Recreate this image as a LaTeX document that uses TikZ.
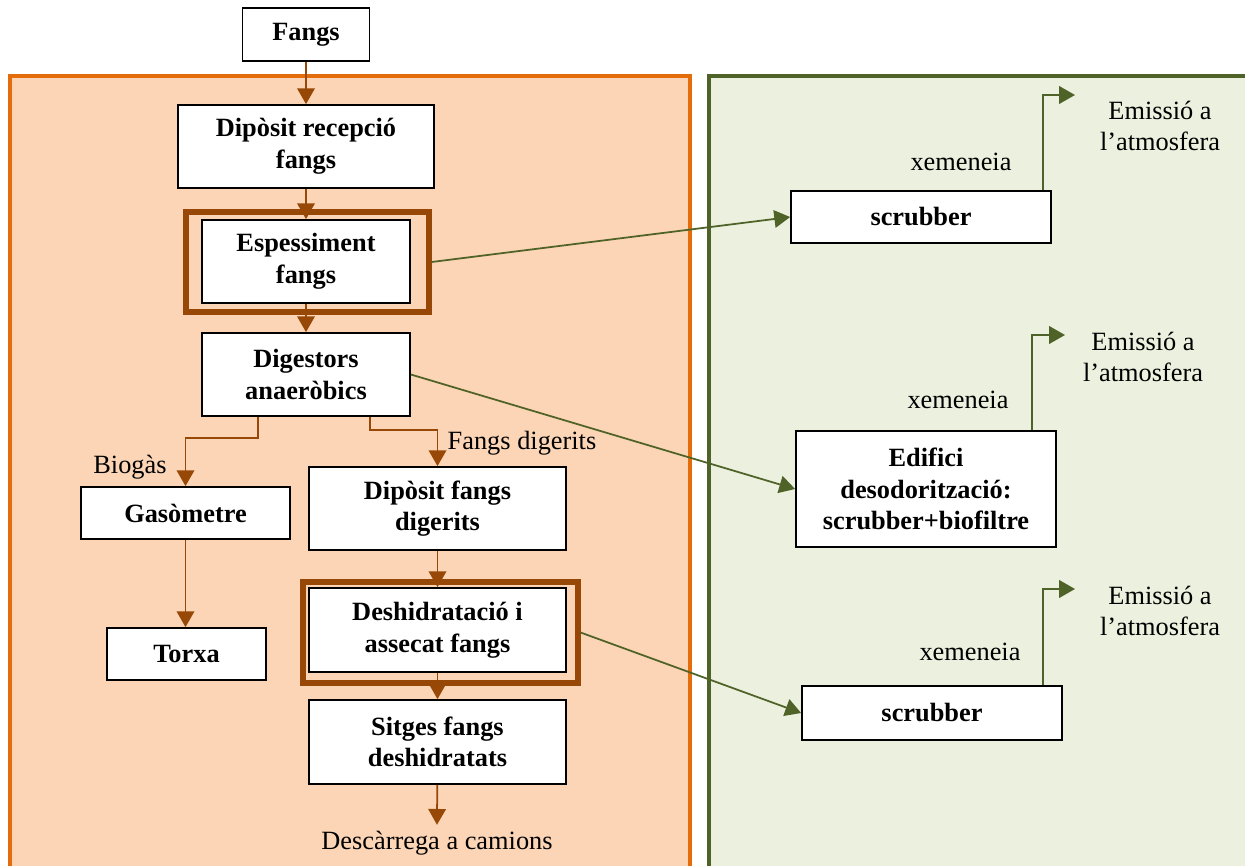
\documentclass[tikz,border=0pt]{standalone}
\usepackage{fontspec}
\setmainfont{Liberation Serif}
\usetikzlibrary{arrows.meta}
\definecolor{sludgeline}{HTML}{E46C0A}
\definecolor{sludgefill}{HTML}{FBD5B5}
\definecolor{airline}{HTML}{4F6228}
\definecolor{airfill}{HTML}{EBF1DE}
\definecolor{keybrown}{HTML}{974806}

\begin{document}
\begin{tikzpicture}[x=0.02cm, y=-0.02cm, font=\fontsize{15}{18}\selectfont,
  stage/.style={draw=black, line width=1pt, fill=white, align=center, inner sep=0pt, font=\fontsize{15}{18}\selectfont\bfseries},
  keyframe/.style={draw=keybrown, line width=3pt, inner sep=0pt},
  flow/.style={draw=keybrown, line width=1pt, -{Triangle[length=9pt,width=10pt]}},
  air/.style={draw=airline, line width=1pt, -{Triangle[length=9pt,width=10pt]}}]
\useasboundingbox (0,0) rectangle (1245,866);

% the two areas
\draw [sludgeline, fill=sludgefill, line width=2.3pt] (10,76) rectangle (690,875);
\draw [airline, fill=airfill, line width=2.3pt] (709,76) rectangle (1260,875);

% sludge line
\node [stage, minimum width=2.54cm, minimum height=1.06cm] (fangs) at (306,34.5) {Fangs};
\node [stage, minimum width=5.12cm, minimum height=1.66cm] (recep) at (306,146.5) {Dipòsit recepció\\fangs};
\node [keyframe, minimum width=4.86cm, minimum height=2.0cm] (espframe) at (307.5,262) {};
\node [stage, minimum width=4.16cm, minimum height=1.66cm] (esp) at (306,261.5) {Espessiment\\fangs};
\node [stage, minimum width=4.16cm, minimum height=1.66cm] (dig) at (306,374.5) {Digestors\\anaeròbics};
\node [stage, minimum width=4.18cm, minimum height=1.04cm] (gaso) at (185.5,513) {Gasòmetre};
\node [stage, minimum width=5.14cm, minimum height=1.66cm] (dipdig) at (437.5,508.5) {Dipòsit fangs\\digerits};
\node [stage, minimum width=3.18cm, minimum height=1.04cm] (torxa) at (186.5,654) {Torxa};
\node [keyframe, minimum width=5.5cm, minimum height=2.02cm] (deshframe) at (440.5,632.5) {};
\node [stage, minimum width=5.14cm, minimum height=1.68cm] (desh) at (437.5,630) {Deshidratació i\\assecat fangs};
\node [stage, minimum width=5.14cm, minimum height=1.68cm] (sitges) at (437.5,742) {Sitges fangs\\deshidratats};
\node (camions) at (437,843) {Descàrrega a camions};
\node (biogas) at (130,467) {Biogàs};
\node (fdig) at (522,443) {Fangs digerits};

\draw [flow] (fangs) -- (recep);
\draw [flow] (recep) -- (esp);
\draw [flow] (esp) -- (dig);
\draw [flow] ([xshift=-0.96cm]dig.south) -- ++(0,21) -| (gaso);
\draw [flow] ([xshift=1.28cm]dig.south) -- ++(0,13) -| (dipdig);
\draw [flow] (gaso) -- (gaso|-torxa.north);
\draw [flow] (dipdig) -- (desh);
\draw [flow] (desh) -- (sitges);
\draw [flow] (sitges) -- (camions.north);

% air treatment
\node [stage, minimum width=5.2cm, minimum height=1.04cm] (scrub1) at (921,217) {scrubber};
\node [stage, minimum width=5.2cm, minimum height=2.32cm] (edif) at (926,489) {Edifici\\desodorització:\\scrubber+biofiltre};
\node [stage, minimum width=5.2cm, minimum height=1.08cm] (scrub2) at (932,713) {scrubber};

\node (xem1) at (961,162) {xemeneia};
\node (xem2) at (958,400) {xemeneia};
\node (xem3) at (970,652) {xemeneia};
\node [align=center] (emis1) at (1160,126) {Emissió a\\l’atmosfera};
\node [align=center] (emis2) at (1143,357) {Emissió a\\l’atmosfera};
\node [align=center] (emis3) at (1160,611) {Emissió a\\l’atmosfera};
\coordinate (out1) at (1075,95);
\coordinate (out2) at (1065,335);
\coordinate (out3) at (1075,589);

\draw [air] (espframe.east) -- (scrub1.west);
\draw [air] (dig.east) -- (edif.west);
\draw [air] (deshframe.east) -- (scrub2.west);
\draw [air] ([xshift=2.44cm]scrub1.north) |- (out1);
\draw [air] ([xshift=2.12cm]edif.north) |- (out2);
\draw [air] ([xshift=2.22cm]scrub2.north) |- (out3);

\end{tikzpicture}
\end{document}
